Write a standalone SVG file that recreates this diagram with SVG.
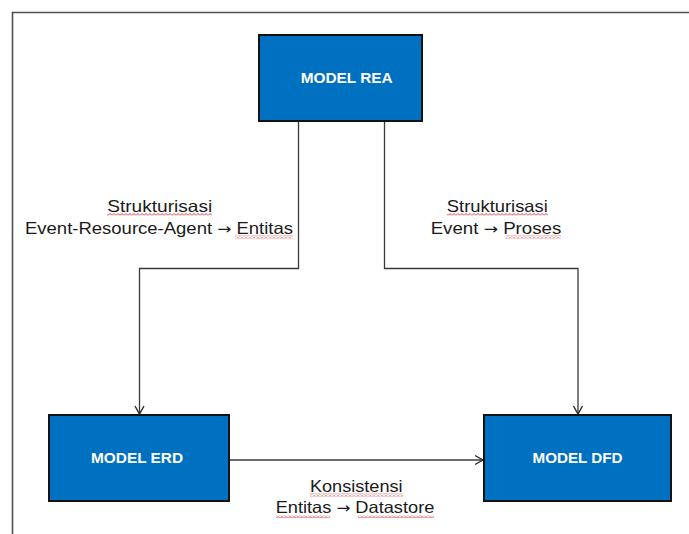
<svg xmlns="http://www.w3.org/2000/svg" width="689" height="534" viewBox="0 0 689 534">
<style>
.node rect{fill:#0070C0;stroke:#111;stroke-width:2}
.node text{font-family:"Liberation Sans",Arial,sans-serif;font-weight:bold;font-size:15px;fill:#fff;text-anchor:middle}
.lbl{font-family:"Liberation Sans",Arial,sans-serif;font-size:16.5px;fill:#1a1a1a;text-anchor:middle}
.ar{font-family:"DejaVu Sans",sans-serif;font-size:15px}
.conn path{fill:none;stroke:#3a3a3a;stroke-width:1.3}
.wave{fill:url(#wv)}
</style>
<defs>
<marker id="arr" markerUnits="userSpaceOnUse" markerWidth="12" markerHeight="12" viewBox="0 0 12 12" refX="10" refY="6" orient="auto">
<path d="M2,1.5 L10,6 L2,10.5" fill="none" stroke="#2a2a2a" stroke-width="1.4"/>
</marker>
<pattern id="wv" patternUnits="userSpaceOnUse" width="4" height="3">
<polyline points="0,2.5 2,0.5 4,2.5" fill="none" stroke="#e02020" stroke-width="0.9"/>
</pattern>
</defs>
<rect width="689" height="534" fill="#fff"/>
<path d="M12.5 540 V12.5 H700" fill="none" stroke="#505050" stroke-width="1.6"/>
<g class="conn" id="connectors">
<path d="M298.5 121 V268.5 H139.5 V414" marker-end="url(#arr)"/>
<path d="M384.5 121 V268.5 H578 V414" marker-end="url(#arr)"/>
<path d="M229 460 H483" marker-end="url(#arr)"/>
</g>
<g class="node" id="node-rea">
<rect x="259" y="35" width="163" height="86"/>
<text x="346.7" y="82.7" textLength="92" lengthAdjust="spacingAndGlyphs">MODEL REA</text>
</g>
<g class="node" id="node-erd">
<rect x="49" y="415" width="180" height="86"/>
<text x="137" y="462.7" textLength="92" lengthAdjust="spacingAndGlyphs">MODEL ERD</text>
</g>
<g class="node" id="node-dfd">
<rect x="484" y="415" width="187" height="86"/>
<text x="577.5" y="462.5" textLength="90" lengthAdjust="spacingAndGlyphs">MODEL DFD</text>
</g>
<g id="labels">
<text class="lbl" x="159.7" y="211.7" textLength="105" lengthAdjust="spacingAndGlyphs">Strukturisasi</text>
<text class="lbl" x="159" y="234" textLength="268" lengthAdjust="spacingAndGlyphs">Event-Resource-Agent <tspan class="ar">→</tspan> Entitas</text>
<text class="lbl" x="497.3" y="211.7" textLength="101" lengthAdjust="spacingAndGlyphs">Strukturisasi</text>
<text class="lbl" x="496" y="234" textLength="130.7" lengthAdjust="spacingAndGlyphs">Event <tspan class="ar">→</tspan> Proses</text>
<text class="lbl" x="356.3" y="492" textLength="92.7" lengthAdjust="spacingAndGlyphs">Konsistensi</text>
<text class="lbl" x="355" y="513.3" textLength="158.7" lengthAdjust="spacingAndGlyphs">Entitas <tspan class="ar">→</tspan> Datastore</text>
</g>
<g id="spellcheck">
<rect class="wave" x="107" y="213" width="105" height="3"/>
<rect class="wave" x="235" y="235.5" width="58" height="3"/>
<rect class="wave" x="447" y="213" width="101" height="3"/>
<rect class="wave" x="506" y="235.5" width="55" height="3"/>
<rect class="wave" x="310" y="493.5" width="93" height="3"/>
<rect class="wave" x="276" y="515" width="54" height="3"/>
<rect class="wave" x="358" y="515" width="76" height="3"/>
</g>
</svg>
